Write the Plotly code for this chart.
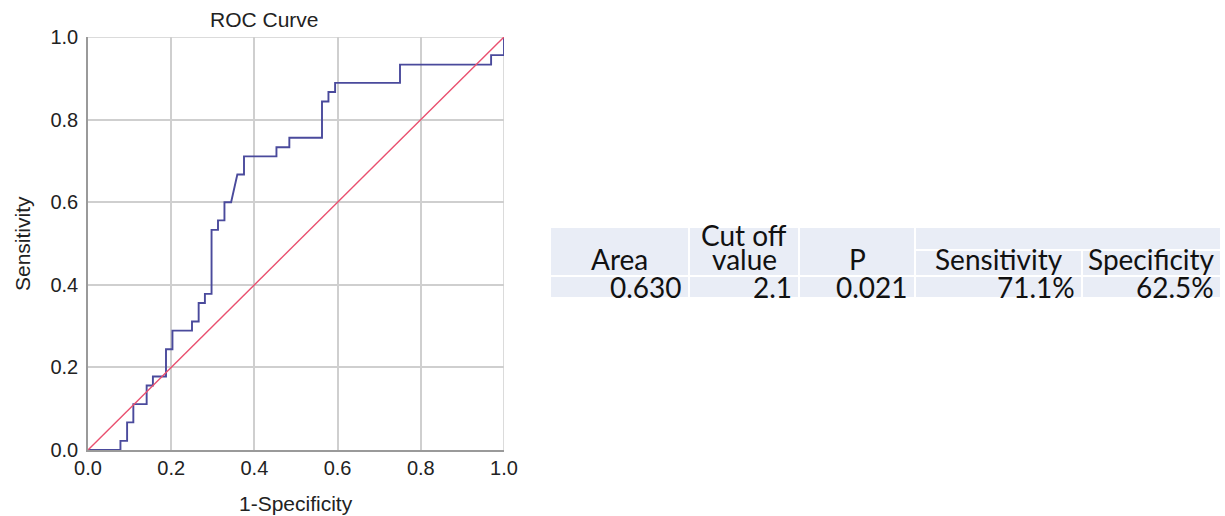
import plotly.graph_objects as go

# ROC curve staircase (1-specificity, sensitivity)
fpr = [0, 0.078, 0.078, 0.094, 0.094, 0.109, 0.109, 0.141, 0.141, 0.156, 0.156,
       0.1875, 0.1875, 0.203, 0.203, 0.25, 0.25, 0.266, 0.266, 0.281, 0.281,
       0.297, 0.297, 0.3125, 0.3125, 0.328, 0.328, 0.344, 0.359, 0.375, 0.375,
       0.453, 0.453, 0.484, 0.484, 0.5625, 0.5625, 0.578, 0.578, 0.594, 0.594,
       0.75, 0.75, 0.969, 0.969, 1.0, 1.0]
tpr = [0, 0, 0.022, 0.022, 0.067, 0.067, 0.111, 0.111, 0.156, 0.156, 0.178,
       0.178, 0.244, 0.244, 0.289, 0.289, 0.311, 0.311, 0.356, 0.356, 0.378,
       0.378, 0.533, 0.533, 0.556, 0.556, 0.6, 0.6, 0.667, 0.667, 0.711,
       0.711, 0.733, 0.733, 0.756, 0.756, 0.844, 0.844, 0.867, 0.867, 0.889,
       0.889, 0.933, 0.933, 0.956, 0.956, 1.0]
ref_x = [0, 1]
ref_y = [0, 1]
tick_vals = [0, 0.2, 0.4, 0.6, 0.8, 1.0]
tick_text = ["0.0", "0.2", "0.4", "0.6", "0.8", "1.0"]

# Summary table
col_headers = ["Area", "Cut off value", "P", "Sensitivity", "Specificity"]
col_values = ["0.630", "2.1", "0.021", "71.1%", "62.5%"]

W, H = 1225, 516
# table geometry (table axis units)
col_widths = [139, 110, 116, 167, 139]
row_heights = [22, 26, 23]  # data row, lower header, upper header band
col_edges = [0]
for w in col_widths:
    col_edges.append(col_edges[-1] + w)
row_edges = [0]
for h in row_heights:
    row_edges.append(row_edges[-1] + h)

AX = dict(family="Liberation Sans, Arial, sans-serif", size=20, color="#222222")
TF = dict(family="Lato, Open Sans, sans-serif", size=28, color="#111111")
CELL = "#e9edf6"

fig = go.Figure()
fig.add_trace(go.Scatter(x=fpr, y=tpr, mode="lines",
                         line=dict(color="#4a4a9c", width=1.9),
                         hoverinfo="skip", showlegend=False))
fig.add_trace(go.Scatter(x=ref_x, y=ref_y, mode="lines",
                         line=dict(color="#e9506f", width=1.4),
                         hoverinfo="skip", showlegend=False))
# invisible trace to anchor the table axes
fig.add_trace(go.Scatter(x=[0, col_edges[-1]], y=[0, row_edges[-1]], mode="markers",
                         marker=dict(opacity=0), xaxis="x2", yaxis="y2",
                         hoverinfo="skip", showlegend=False))

shapes = []
annotations = []

# plot frame: top and right edges
shapes.append(dict(type="line", xref="x", yref="y", x0=0, x1=1, y0=1, y1=1,
                   line=dict(color="#cfcfcf", width=1.5), layer="below"))
shapes.append(dict(type="line", xref="x", yref="y", x0=1, x1=1, y0=0, y1=1,
                   line=dict(color="#cfcfcf", width=1.5), layer="below"))

def cell(c0, c1, r0, r1):
    shapes.append(dict(type="rect", xref="x2", yref="y2",
                       x0=col_edges[c0], x1=col_edges[c1],
                       y0=row_edges[r0], y1=row_edges[r1],
                       fillcolor=CELL, line=dict(color="white", width=2),
                       layer="below"))

# header cells
for i in range(3):
    cell(i, i + 1, 1, 3)
cell(3, 5, 2, 3)
cell(3, 4, 1, 2)
cell(4, 5, 1, 2)
# data cells
for i in range(5):
    cell(i, i + 1, 0, 1)

header_y = row_edges[1] + 17.0
upper_y = row_edges[2] + 15.4
data_y = 11.4
for i, name in enumerate(col_headers):
    xc = (col_edges[i] + col_edges[i + 1]) / 2
    if name == "Cut off value":
        first, second = "Cut off", "value"
        annotations.append(dict(xref="x2", yref="y2", x=xc, y=upper_y, text=first,
                                showarrow=False, xanchor="center", yanchor="middle", font=TF))
        annotations.append(dict(xref="x2", yref="y2", x=xc, y=header_y, text=second,
                                showarrow=False, xanchor="center", yanchor="middle", font=TF))
    else:
        annotations.append(dict(xref="x2", yref="y2", x=xc, y=header_y, text=name,
                                showarrow=False, xanchor="center", yanchor="middle", font=TF))
    annotations.append(dict(xref="x2", yref="y2", x=col_edges[i + 1], y=data_y,
                            text=col_values[i], showarrow=False, xanchor="right",
                            yanchor="middle", xshift=-5, font=TF))

# chart title and axis titles
annotations.append(dict(xref="paper", yref="paper", x=264 / W, y=1 - 20 / H,
                        text="ROC Curve", showarrow=False, xanchor="center",
                        yanchor="middle", font=dict(AX, size=21)))
annotations.append(dict(xref="paper", yref="paper", x=296 / W, y=1 - 503 / H,
                        text="1-Specificity", showarrow=False, xanchor="center",
                        yanchor="middle", font=dict(AX, size=21)))
annotations.append(dict(xref="paper", yref="paper", x=23 / W, y=1 - 244 / H,
                        text="Sensitivity", showarrow=False, xanchor="center",
                        yanchor="middle", textangle=-90, font=dict(AX, size=21)))

axis_common = dict(range=[0, 1], tickvals=tick_vals, ticktext=tick_text,
                   showgrid=True, gridcolor="#cfcfcf", gridwidth=1.5,
                   zeroline=False, showline=True, linecolor="#9a9a9a", linewidth=1.5,
                   ticks="", tickfont=AX, fixedrange=True, layer="below traces",
                   automargin=False)

fig.update_layout(
    width=W, height=H,
    margin=dict(l=0, r=0, t=0, b=0, pad=0, autoexpand=False),
    paper_bgcolor="white", plot_bgcolor="white",
    xaxis=dict(axis_common, domain=[88 / W, 504 / W], anchor="y", ticklabelstandoff=-1),
    yaxis=dict(axis_common, domain=[1 - 450 / H, 1 - 37 / H], anchor="x", ticklabelstandoff=4),
    xaxis2=dict(domain=[550 / W, 1221 / W], range=[0, col_edges[-1]], visible=False,
                anchor="y2", fixedrange=True, automargin=False),
    yaxis2=dict(domain=[1 - 298 / H, 1 - 227 / H], range=[0, row_edges[-1]], visible=False,
                anchor="x2", fixedrange=True, automargin=False),
    shapes=shapes,
    annotations=annotations,
    showlegend=False,
)

fig.write_html("out.html")
